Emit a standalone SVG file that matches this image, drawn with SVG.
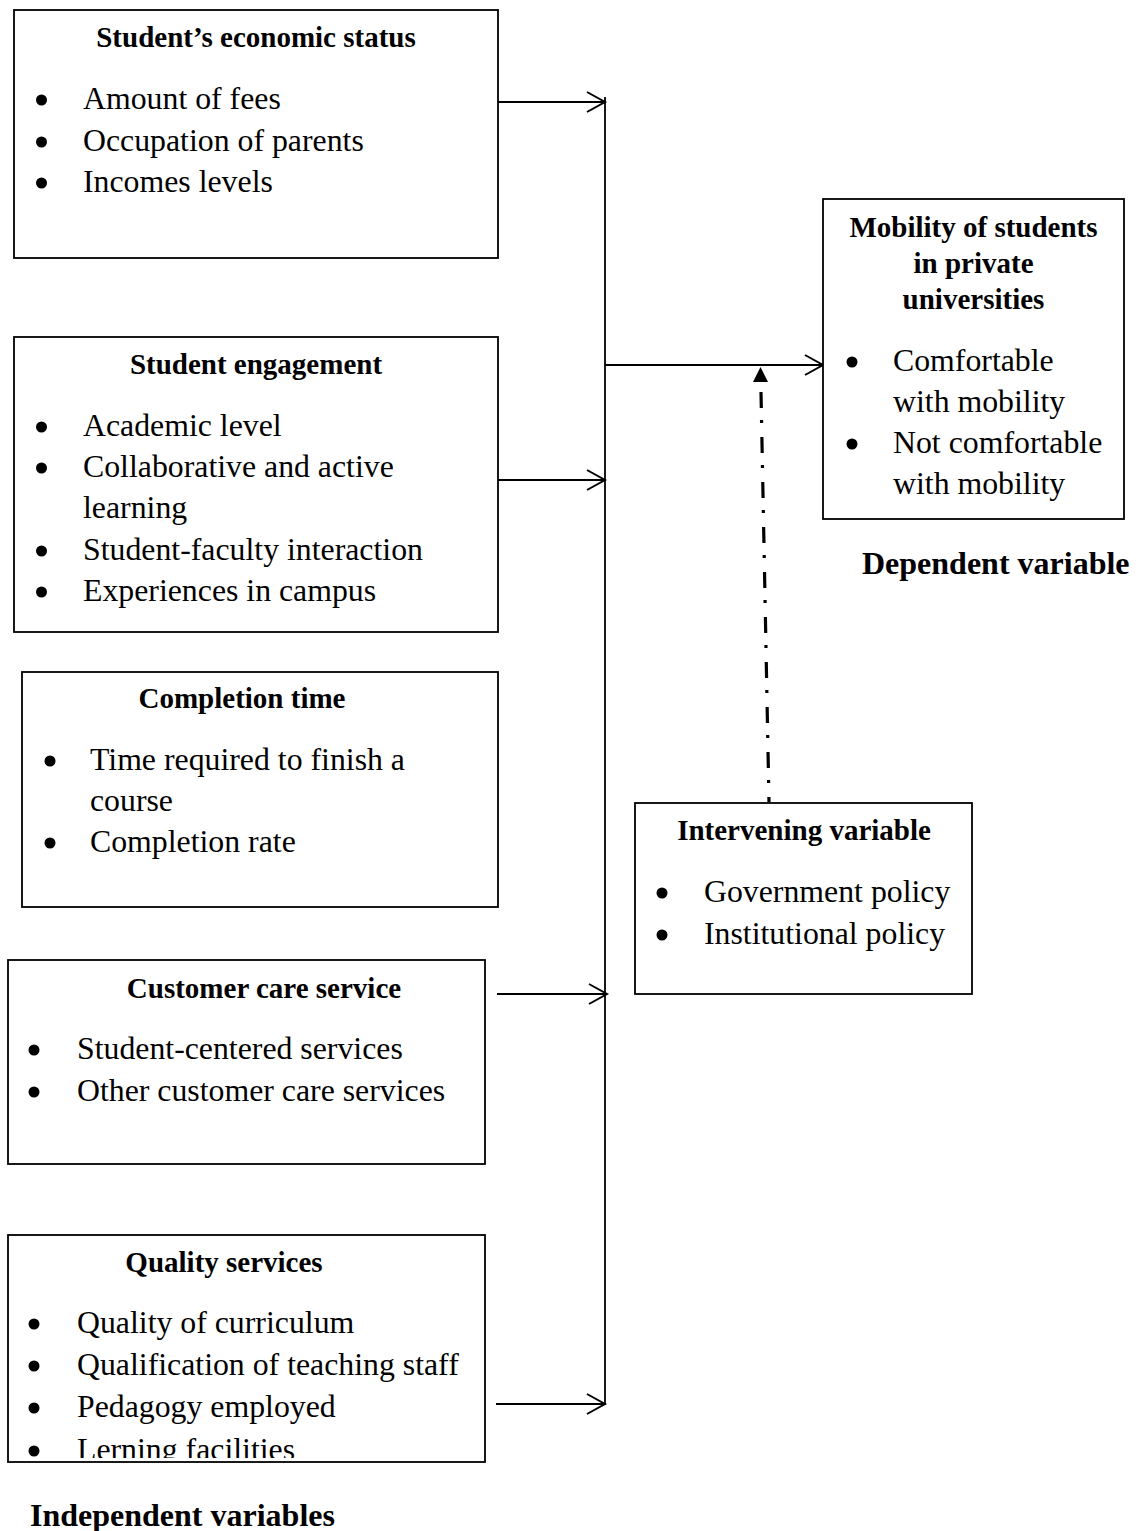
<svg xmlns="http://www.w3.org/2000/svg" width="1140" height="1531" viewBox="0 0 1140 1531">
<style>
.box{fill:#fff;stroke:#000;stroke-width:1.8}
.t{font-family:"Liberation Serif","Times New Roman",serif;font-weight:bold;font-size:29px;fill:#000;text-anchor:middle}
.b{font-family:"Liberation Serif","Times New Roman",serif;font-size:31.8px;fill:#000}
.lbl{font-family:"Liberation Serif","Times New Roman",serif;font-weight:bold;font-size:32px;fill:#000}
.dot{fill:#000}
.ln{fill:none;stroke:#000;stroke-width:1.8}
</style>
<defs>
<marker id="open" markerWidth="22" markerHeight="24" refX="19" refY="12" orient="auto" markerUnits="userSpaceOnUse">
<path d="M1,2 L19,12 L1,22" fill="none" stroke="#000" stroke-width="2"/>
</marker>
<clipPath id="clipq"><rect x="8" y="1235" width="477" height="223"/></clipPath>
</defs>
<rect width="1140" height="1531" fill="#fff"/>

<g id="connectors">
<line class="ln" x1="605" y1="97" x2="605" y2="1405"/>
<line class="ln" x1="495" y1="102" x2="605" y2="102" marker-end="url(#open)"/>
<line class="ln" x1="496" y1="480" x2="605" y2="480" marker-end="url(#open)"/>
<line class="ln" x1="497" y1="994" x2="607" y2="994" marker-end="url(#open)"/>
<line class="ln" x1="496" y1="1404" x2="605" y2="1404" marker-end="url(#open)"/>
<line class="ln" x1="605" y1="365" x2="823" y2="365" marker-end="url(#open)"/>
<line x1="761" y1="392" x2="769" y2="802" stroke="#000" stroke-width="3.2" stroke-dasharray="16 12 3 14"/>
<polygon points="760.5,367 753,382 768,382" fill="#000"/>
</g>

<g id="economic">
<rect class="box" x="14" y="10" width="484" height="248"/>
<text class="t" x="256" y="47">Student’s economic status</text>
<circle class="dot" cx="41.5" cy="100" r="5.5"/><text class="b" x="83" y="109">Amount of fees</text>
<circle class="dot" cx="41.5" cy="142" r="5.5"/><text class="b" x="83" y="151">Occupation of parents</text>
<circle class="dot" cx="41.5" cy="183" r="5.5"/><text class="b" x="83" y="192">Incomes levels</text>
</g>

<g id="engagement">
<rect class="box" x="14" y="337" width="484" height="295"/>
<text class="t" x="256" y="374">Student engagement</text>
<circle class="dot" cx="41.5" cy="427" r="5.5"/><text class="b" x="83" y="436">Academic level</text>
<circle class="dot" cx="41.5" cy="468" r="5.5"/><text class="b" x="83" y="477">Collaborative and active</text>
<text class="b" x="83" y="518">learning</text>
<circle class="dot" cx="41.5" cy="551" r="5.5"/><text class="b" x="83" y="560">Student-faculty interaction</text>
<circle class="dot" cx="41.5" cy="592" r="5.5"/><text class="b" x="83" y="601">Experiences in campus</text>
</g>

<g id="completion">
<rect class="box" x="22" y="672" width="476" height="235"/>
<text class="t" x="242" y="708">Completion time</text>
<circle class="dot" cx="50" cy="761" r="5.5"/><text class="b" x="90" y="770">Time required to finish a</text>
<text class="b" x="90" y="811">course</text>
<circle class="dot" cx="50" cy="843" r="5.5"/><text class="b" x="90" y="852">Completion rate</text>
</g>

<g id="customer">
<rect class="box" x="8" y="960" width="477" height="204"/>
<text class="t" x="264" y="998">Customer care service</text>
<circle class="dot" cx="34" cy="1050" r="5.5"/><text class="b" x="77" y="1059">Student-centered services</text>
<circle class="dot" cx="34" cy="1092" r="5.5"/><text class="b" x="77" y="1101">Other customer care services</text>
</g>

<g id="quality">
<rect class="box" x="8" y="1235" width="477" height="227"/>
<text class="t" x="224" y="1272">Quality services</text>
<g clip-path="url(#clipq)">
<circle class="dot" cx="34" cy="1324" r="5.5"/><text class="b" x="77" y="1333">Quality of curriculum</text>
<circle class="dot" cx="34" cy="1366" r="5.5"/><text class="b" x="77" y="1375">Qualification of teaching staff</text>
<circle class="dot" cx="34" cy="1408" r="5.5"/><text class="b" x="77" y="1417">Pedagogy employed</text>
<circle class="dot" cx="34" cy="1451" r="5.5"/><text class="b" x="77" y="1460">Lerning facilities</text>
</g>
</g>

<g id="mobility">
<rect class="box" x="823" y="199" width="301" height="320"/>
<text class="t" x="973.5" y="237">Mobility of students</text>
<text class="t" x="973.5" y="273">in private</text>
<text class="t" x="973.5" y="309">universities</text>
<circle class="dot" cx="852" cy="362" r="5.5"/><text class="b" x="893" y="371">Comfortable</text>
<text class="b" x="893" y="412">with mobility</text>
<circle class="dot" cx="852" cy="444" r="5.5"/><text class="b" x="893" y="453">Not comfortable</text>
<text class="b" x="893" y="494">with mobility</text>
</g>

<g id="intervening">
<rect class="box" x="635" y="803" width="337" height="191"/>
<text class="t" x="804" y="840">Intervening variable</text>
<circle class="dot" cx="662" cy="893" r="5.5"/><text class="b" x="704" y="902">Government policy</text>
<circle class="dot" cx="662" cy="935" r="5.5"/><text class="b" x="704" y="944">Institutional policy</text>
</g>

<g id="dependent-label">
<text class="lbl" x="862" y="574">Dependent variable</text>
</g>
<g id="independent-label">
<text class="lbl" x="30" y="1526">Independent variables</text>
</g>
</svg>
